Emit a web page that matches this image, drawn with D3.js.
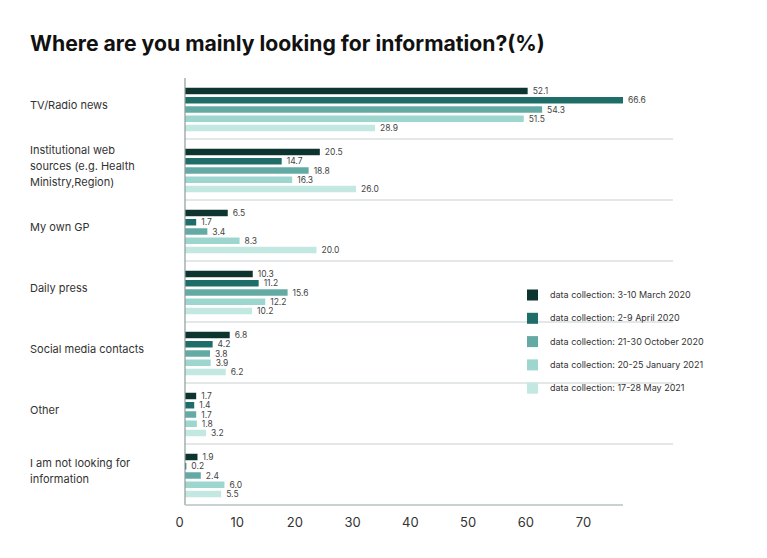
<!DOCTYPE html>
<html>
<head>
<meta charset="utf-8">
<script src="https://cdn.jsdelivr.net/npm/d3@7"></script>
<style>
  body { margin: 0; background: #fff; }
  svg { font-family: "Inter", "Lato", sans-serif; }
</style>
</head>
<body>
<svg id="chart" width="767" height="558"></svg>
<script>
const categories = [
    ["TV/Radio news"],
    ["Institutional web", "sources (e.g. Health", "Ministry,Region)"],
    ["My own GP"],
    ["Daily press"],
    ["Social media contacts"],
    ["Other"],
    ["I am not looking for", "information"]
];

const seriesNames = [
    "data collection: 3-10 March 2020",
    "data collection: 2-9 April 2020",
    "data collection: 21-30 October 2020",
    "data collection: 20-25 January 2021",
    "data collection: 17-28 May 2021"
];

const march2020 = [52.1, 20.5, 6.5, 10.3, 6.8, 1.7, 1.9];
const april2020 = [66.6, 14.7, 1.7, 11.2, 4.2, 1.4, 0.2];
const october2020 = [54.3, 18.8, 3.4, 15.6, 3.8, 1.7, 2.4];
const january2021 = [51.5, 16.3, 8.3, 12.2, 3.9, 1.8, 6.0];
const may2021 = [28.9, 26.0, 20.0, 10.2, 6.2, 3.2, 5.5];

const tickValues = [0, 10, 20, 30, 40, 50, 60, 70];
const colors = ["#0e3430", "#1e6d68", "#63aaa4", "#9dd6cf", "#c3e8e2"];

const seriesValues = [march2020, april2020, october2020, january2021, may2021];

const svg = d3.select("#chart");

svg.append("text")
    .attr("x", 30)
    .attr("y", 51)
    .attr("font-size", 21.2)
    .attr("font-weight", 700)
    .attr("fill", "#111")
    .text("Where are you mainly looking for information?(%)");

const plotLeft = 185, plotTop = 78, plotBottom = 505;

const yGroup = d3.scaleBand()
    .domain(d3.range(categories.length))
    .range([plotTop, plotBottom]);

const ySeries = d3.scaleBand()
    .domain(d3.range(seriesNames.length))
    .range([9.75, 53.25])
    .paddingInner(0.3);

// bars in the original are drawn longer than the axis labels suggest
const xBar = d3.scaleLinear()
    .domain([0, 66.6])
    .range([plotLeft, 623]);

const xAxisScale = d3.scaleLinear()
    .domain([0, 70])
    .range([179, 583]);

// group separators
svg.selectAll(".sep")
    .data(d3.range(1, categories.length))
    .join("line")
    .attr("class", "sep")
    .attr("x1", plotLeft)
    .attr("x2", 673)
    .attr("y1", d => yGroup(d))
    .attr("y2", d => yGroup(d))
    .attr("stroke", "#c9cfcf")
    .attr("stroke-width", 1);

const groups = svg.selectAll(".group")
    .data(categories)
    .join("g")
    .attr("class", "group")
    .attr("transform", (_, i) => `translate(0,${yGroup(i)})`);

groups.selectAll(".bar")
    .data((_, i) => seriesValues.map((s, j) => ({ j, v: s[i] })))
    .join("rect")
    .attr("class", "bar")
    .attr("x", plotLeft)
    .attr("y", d => ySeries(d.j))
    .attr("width", d => xBar(d.v) - plotLeft)
    .attr("height", ySeries.bandwidth())
    .attr("fill", d => colors[d.j]);

groups.selectAll(".val")
    .data((_, i) => seriesValues.map((s, j) => ({ j, v: s[i] })))
    .join("text")
    .attr("class", "val")
    .attr("x", d => xBar(d.v) + 5)
    .attr("y", d => ySeries(d.j) + ySeries.bandwidth() / 2)
    .attr("dy", "0.36em")
    .attr("font-size", 8.5)
    .attr("fill", "#444")
    .text(d => d.v.toFixed(1));

groups.append("text")
    .attr("x", 30)
    .attr("y", d => yGroup.bandwidth() / 2 - 3 - (d.length - 1) * 8)
    .attr("font-size", 11)
    .attr("fill", "#333")
    .selectAll("tspan")
    .data(d => d)
    .join("tspan")
    .attr("x", 30)
    .attr("dy", (_, k) => k === 0 ? "0.35em" : 16)
    .text(d => d);

// axes lines
svg.append("line")
    .attr("x1", plotLeft).attr("x2", plotLeft)
    .attr("y1", plotTop).attr("y2", plotBottom)
    .attr("stroke", "#8e9a9a")
    .attr("stroke-width", 1.2);

svg.append("line")
    .attr("x1", plotLeft).attr("x2", 623)
    .attr("y1", plotBottom).attr("y2", plotBottom)
    .attr("stroke", "#b7c3c3")
    .attr("stroke-width", 1.5);

const xAxis = d3.axisBottom(xAxisScale)
    .tickValues(tickValues)
    .tickSize(0)
    .tickPadding(0);

svg.append("g")
    .attr("transform", "translate(0,518)")
    .call(xAxis)
    .call(g => g.select(".domain").remove())
    .selectAll("text")
    .attr("font-family", "Inter, Lato, sans-serif")
    .attr("font-size", 13)
    .attr("fill", "#333");

// legend
const legend = svg.selectAll(".legend")
    .data(seriesNames)
    .join("g")
    .attr("class", "legend")
    .attr("transform", (_, i) => `translate(527,${295 + i * 23.3})`);

legend.append("rect")
    .attr("x", 0)
    .attr("y", -5.5)
    .attr("width", 11)
    .attr("height", 11)
    .attr("fill", (_, i) => colors[i]);

legend.append("text")
    .attr("x", 23)
    .attr("dy", "0.35em")
    .attr("font-size", 9)
    .attr("fill", "#333")
    .text(d => d);
</script>
</body>
</html>
